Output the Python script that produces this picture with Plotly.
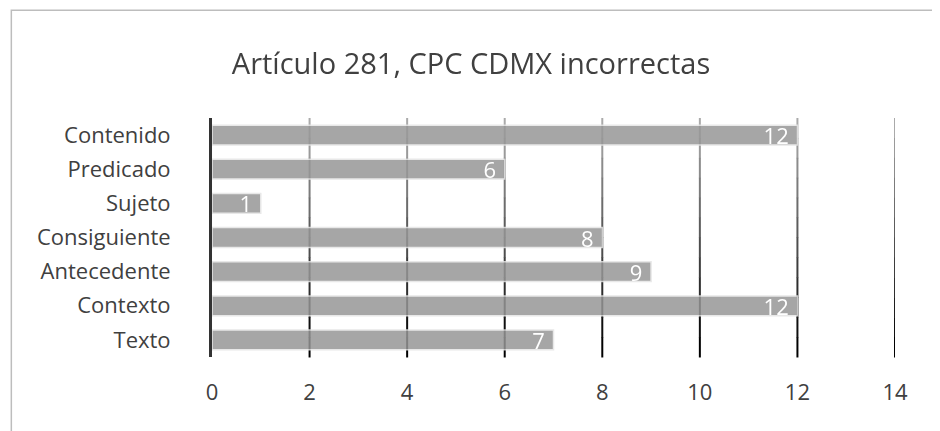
import plotly.graph_objects as go

categories = ["Texto", "Contexto", "Antecedente", "Consiguiente", "Sujeto", "Predicado", "Contenido"]
values = [7, 12, 9, 8, 1, 6, 12]
x_ticks = [0, 2, 4, 6, 8, 10, 12, 14]

FONT = "Open Sans"
TEXT = "#404040"

fig = go.Figure()
fig.add_trace(go.Bar(
    y=categories, x=values, orientation="h",
    marker=dict(color="rgb(150,150,150)", line=dict(color="#e4e4e4", width=1.5)),
    opacity=0.85,
    width=0.58,
    text=[f"{v}\u00a0" for v in values],
    textposition="inside", insidetextanchor="end", textangle=0,
    textfont=dict(color="white", size=22, family=FONT),
    showlegend=False, hoverinfo="skip",
))

# gridlines fading from grey at the top to black at the bottom
shapes = []
steps = 12
for t in x_ticks[1:]:
    for i in range(steps):
        g = int(170 - 170 * i / (steps - 1))
        shapes.append(dict(
            type="line", xref="x", yref="paper", layer="below",
            x0=t, x1=t, y0=1 - i / steps, y1=1 - (i + 1) / steps - 0.002,
            line=dict(color=f"rgb({g},{g},{g})", width=2),
        ))
# outer frame
shapes.append(dict(
    type="rect", xref="paper", yref="paper",
    x0=-0.2938, x1=1.0635, y0=-0.38, y1=1.451,
    line=dict(color="#bdbdbd", width=1.5), fillcolor="rgba(0,0,0,0)",
))

# page body has an 8px margin, so the figure is sized to fit the window
fig.update_layout(
    width=932, height=423,
    margin=dict(l=204, r=45, t=110, b=74, autoexpand=False),
    paper_bgcolor="white", plot_bgcolor="white",
    font=dict(family=FONT, color=TEXT),
    title=dict(text="Artículo 281, CPC CDMX incorrectas", x=0.4968, xref="container",
               y=0.8676, yref="container", xanchor="center", yanchor="middle",
               font=dict(size=29, family=FONT, color=TEXT)),
    xaxis=dict(range=[0, 14], tickvals=x_ticks, showgrid=False, zeroline=False,
               showline=False, ticks="", tickfont=dict(size=22, color=TEXT),
               ticklabelstandoff=20, fixedrange=True, automargin=False),
    yaxis=dict(categoryorder="array", categoryarray=categories, showgrid=False,
               showline=True, linecolor="#333333", linewidth=3, ticks="",
               tickfont=dict(size=22, color=TEXT), ticklabelstandoff=34,
               range=[-0.5, 6.5], automargin=False),
    shapes=shapes,
    bargap=0.42,
    uniformtext=dict(minsize=22, mode="show"),
)

fig.write_html("out.html")
